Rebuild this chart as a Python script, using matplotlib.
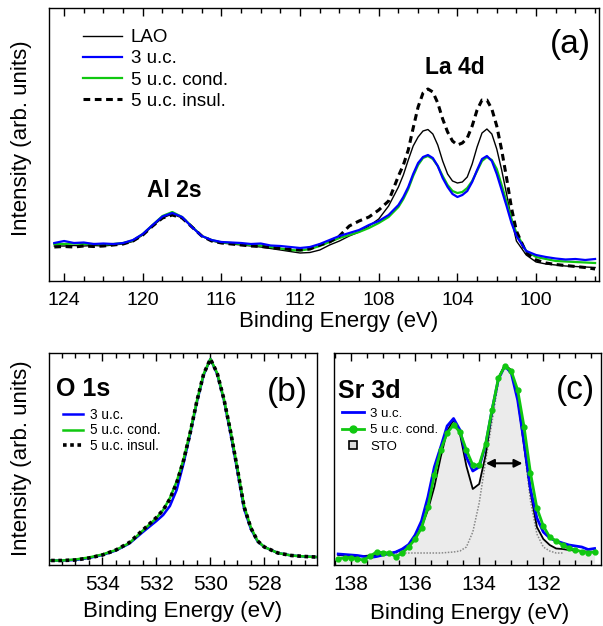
import matplotlib
matplotlib.use('Agg')
import matplotlib.pyplot as plt
from matplotlib.lines import Line2D
from matplotlib.ticker import MultipleLocator

plt.rcParams['font.family'] = ['Liberation Sans', 'DejaVu Sans']

# panel (a): Al 2s / La 4d
energy_a = [124.5, 124.0, 123.5, 123.0, 122.5, 122.0, 121.5, 121.0, 120.5,
            120.0, 119.5, 119.0, 118.5, 118.0, 117.5, 117.0, 116.5, 116.0,
            115.5, 115.0, 114.5, 114.0, 113.5, 113.0, 112.5, 112.0, 111.5,
            111.0, 110.5, 110.0, 109.5, 109.0, 108.5, 108.0, 107.5,
            107.0, 106.75, 106.5, 106.25, 106.0, 105.75, 105.5, 105.25,
            105.0, 104.75, 104.5, 104.25, 104.0, 103.75, 103.5, 103.25,
            103.0, 102.75, 102.5, 102.25, 102.0, 101.75, 101.5, 101.25,
            101.0, 100.5, 100.0, 99.5, 99.0, 98.5, 98.0, 97.5, 97.0]
lao_a = [35, 35, 35.5, 35, 35.5, 35, 36, 37, 39.5, 46, 55, 63, 67, 63, 54,
         45, 40, 38, 37, 36, 35, 34, 32.5, 31, 29.5, 28, 28.5, 31, 36, 40,
         45, 49, 55, 62, 75,
         94, 106, 121, 135, 144, 150, 151.5, 147, 136, 120, 107, 100, 98,
         99, 104, 117, 134, 148, 152, 147, 132, 111, 87, 62, 40,
         26, 19, 17, 16, 15, 14.5, 14, 13.5]
uc3_a = [38, 40, 38, 38.5, 37, 37.5, 37, 38, 41, 47, 56, 64.5, 68, 64, 54,
         45, 41, 39, 38.5, 38, 37, 37.5, 35.5, 35, 34, 33, 34, 37, 41, 45,
         48, 51, 56, 60, 66,
         76, 84, 94, 107, 118, 124, 126, 123, 115, 103, 94, 87, 84, 86, 90,
         99, 111, 122, 125, 120, 107, 91, 75, 58, 45,
         30, 26, 24, 22.5, 21.5, 22, 21, 22]
cond_a = [37, 37, 37.5, 37, 37, 36.5, 37, 38, 40.5, 47, 56, 65, 69, 64, 54.5,
          45, 41, 38.5, 38, 37, 36, 35.5, 34, 32.5, 31, 30.5, 32, 35, 39, 43,
          46, 49, 53, 58, 64,
          74, 82, 92, 105, 116, 123, 125, 122, 115, 105, 96, 90, 88, 89, 93,
          100, 110, 120, 124, 121, 112, 96, 79, 62, 48,
          30, 24, 22, 20, 19.5, 19, 18.5, 18]
insul_a = [34, 34.5, 34, 35, 34.5, 35, 36, 37, 40, 46, 55, 63, 66, 63, 54,
           45, 40, 38, 37, 36, 35, 34.5, 33.5, 32.5, 31.5, 31, 32, 36, 39, 45,
           55, 60, 64, 71, 80,
           105, 116, 131, 153, 174, 188, 192, 189, 178, 162, 149, 140, 136,
           138, 143, 155, 171, 181, 181, 172, 155, 131, 103, 73, 50,
           28, 21, 18, 16.5, 15.5, 14.5, 13.5, 12]

# panel (b): O 1s
energy_b = [535.9, 535.5, 535.0, 534.5, 534.0, 533.5, 533.0, 532.5, 532.0,
            531.75, 531.5, 531.25, 531.0, 530.75, 530.5, 530.25, 530.0,
            529.75, 529.5, 529.25, 529.0, 528.75, 528.5, 528.25, 528.0,
            527.5, 527.0, 526.5, 526.1]
uc3_b = [4.5, 4.5, 5, 7, 10, 14.5, 21.5, 33, 44, 50, 59, 75, 101, 131, 163,
         190, 206, 191, 165, 131, 94, 56, 36, 23.5, 18, 12, 9.5, 8.5, 8]
cond_b = [4.5, 4.5, 5.5, 7.5, 10.5, 15, 22, 34.5, 47, 55, 67, 83.5, 105, 133,
          164, 191, 206, 192, 166, 134, 97, 59, 37.5, 24, 18, 12, 9.5, 8.5, 8]
insul_b = [4.5, 4.5, 5, 7, 10, 15, 22.5, 35, 47.5, 55, 66, 82, 104, 132, 164,
           191, 206, 192, 166, 133, 96, 58, 37, 24, 18, 12, 9.5, 8.5, 8]

# panel (c): Sr 3d
energy_c = [138.4, 138.2, 138.0, 137.8, 137.6, 137.4, 137.2, 137.0, 136.8,
            136.6, 136.4, 136.2, 136.0, 135.8, 135.6, 135.4, 135.2, 135.0,
            134.8, 134.6, 134.4, 134.2, 134.0, 133.8, 133.6, 133.4, 133.2,
            133.0, 132.8, 132.6, 132.4, 132.2, 132.0, 131.8, 131.6, 131.4,
            131.2, 131.0, 130.8, 130.6, 130.4]
sto_c = [10, 9.5, 9, 9, 9, 9.5, 10, 10.5, 11.5, 13, 15.5, 20, 26, 38, 55, 78,
         108, 134, 145, 131, 99, 76, 81, 110, 152, 187, 200, 195, 167, 119,
         73, 38, 26, 20, 16.5, 16, 15, 14.5, 13.5, 13.5, 13]
uc3_c = [11, 10.5, 10, 9.5, 8.5, 7.5, 8.5, 10, 11.5, 13, 16, 20.5, 30, 44, 68,
         98, 118, 139, 146.5, 135, 108, 94, 98, 120, 155, 186, 199, 192, 165,
         122, 76, 47, 33, 27, 24, 22, 20, 19, 18, 15.5, 16.5]
cond_c = [6.5, 7, 7.5, 6, 5, 9, 13, 12.5, 12, 8.5, 12, 18, 26, 37, 58, 90,
          115, 132, 140, 133, 115, 100, 100, 121, 155, 187, 199, 194, 175,
          138, 92, 57, 39, 28, 24, 20, 17, 15, 13.5, 12.5, 13]
energy_fit = [136.6, 136.4, 136.2, 136.0, 135.8, 135.6, 135.4, 135.2, 135.0,
              134.8, 134.6, 134.4, 134.2, 134.0, 133.8, 133.6, 133.4, 133.2,
              133.0, 132.8, 132.6, 132.4, 132.2, 132.0, 131.8, 131.6, 131.4]
fit_c = [12, 12, 12, 12, 12, 12, 12, 12, 12.5, 13, 14, 18, 33, 62, 104, 143,
         183, 199, 194, 166, 118, 64, 31, 18, 14, 12, 12]
sto_floor = 2
arrow_ends = [133.79, 132.65]
arrow_level = 101.7

BLUE = '#0000ff'
GREEN = '#10c810'
W, H = 603, 626


def px(x, y):
    return x / W, 1 - y / H


def style_axis(ax, major, minor, labelsize, pad):
    ax.set_yticks([])
    ax.xaxis.set_major_locator(MultipleLocator(major))
    ax.xaxis.set_minor_locator(MultipleLocator(minor))
    ax.tick_params(axis='x', which='both', direction='in', top=True,
                   bottom=True, width=1, labelsize=labelsize, pad=pad)
    ax.tick_params(axis='x', which='major', length=6)
    ax.tick_params(axis='x', which='minor', length=3.5)
    for s in ax.spines.values():
        s.set_linewidth(1)


fig = plt.figure(figsize=(6.03, 6.26), dpi=100)
ax_a = fig.add_axes([49 / W, 345 / H, 550 / W, 273 / H])
ax_b = fig.add_axes([49 / W, 61 / H, 268 / W, 212 / H])
ax_c = fig.add_axes([334 / W, 61 / H, 267 / W, 212 / H])

# (a)
ax_a.plot(energy_a, lao_a, color='black', lw=1.0, label='LAO')
ax_a.plot(energy_a, uc3_a, color=BLUE, lw=1.6, label='3 u.c.', zorder=3)
ax_a.plot(energy_a, cond_a, color=GREEN, lw=1.6, label='5 u.c. cond.')
ax_a.plot(energy_a, insul_a, color='black', lw=2.2,
          linestyle=(0, (2.2, 1.5)), label='5 u.c. insul.')
ax_a.set_xlim(124.77, 96.8)
ax_a.set_ylim(0, 273)
style_axis(ax_a, 4, 1, 14, 8)
ax_a.legend(loc='upper left', bbox_to_anchor=(0.062, 0.923), frameon=False,
            fontsize=13.5, handlelength=2.1, handletextpad=0.45,
            borderpad=0, borderaxespad=0, labelspacing=0.22)

# (b)
ax_b.plot(energy_b, uc3_b, color=BLUE, lw=1.8, label='3 u.c.')
ax_b.plot(energy_b, cond_b, color=GREEN, lw=1.8, label='5 u.c. cond.')
ax_b.plot(energy_b, insul_b, color='black', lw=2.6,
          linestyle=(0, (1, 1)), label='5 u.c. insul.')
ax_b.set_xlim(535.98, 526.05)
ax_b.set_ylim(0, 212)
style_axis(ax_b, 2, 0.5, 15, 7.5)
ax_b.legend(loc='upper left', bbox_to_anchor=(0.052, 0.742), frameon=False,
            fontsize=9.8, handlelength=1.5, handletextpad=0.5,
            borderpad=0, borderaxespad=0, labelspacing=0.13)

# (c)
ax_c.fill_between(energy_c, sto_floor, sto_c, color='#ebebeb', lw=0)
ax_c.plot(energy_fit, fit_c, color='#888888', lw=1.1, linestyle=(0, (1, 1)))
ax_c.plot(energy_c, sto_c, color='black', lw=1.3)
ax_c.plot(energy_c, uc3_c, color=BLUE, lw=2.0)
ax_c.plot(energy_c, cond_c, color=GREEN, lw=2.0, marker='o', markersize=3.5)
ax_c.annotate('', xy=(arrow_ends[1], arrow_level),
              xytext=(arrow_ends[0], arrow_level),
              arrowprops=dict(arrowstyle='<|-|>', color='black', lw=1.5,
                              mutation_scale=12, shrinkA=0, shrinkB=0))
ax_c.set_xlim(138.53, 130.2)
ax_c.set_ylim(0, 212)
style_axis(ax_c, 2, 0.5, 15, 7.5)
handles_c = [
    Line2D([], [], color=BLUE, lw=2.0),
    Line2D([], [], color=GREEN, lw=2.0, marker='o', markersize=5),
    Line2D([], [], linestyle='none', marker='s', markersize=6,
           markerfacecolor='#dcdcdc', markeredgecolor='black',
           markeredgewidth=1.2),
]
ax_c.legend(handles_c, ['3 u.c.', '5 u.c. cond.', 'STO'], loc='upper left',
            bbox_to_anchor=(0.03, 0.743), frameon=False, fontsize=9.5,
            handlelength=1.7, handletextpad=0.45, borderpad=0,
            borderaxespad=0, labelspacing=0.33)

# labels and annotations
fig.text(*px(339, 322), 'Binding Energy (eV)', fontsize=16,
         ha='center', va='center')
fig.text(*px(183, 612), 'Binding Energy (eV)', fontsize=16,
         ha='center', va='center')
fig.text(*px(470, 613), 'Binding Energy (eV)', fontsize=16,
         ha='center', va='center')
fig.text(*px(22, 138), 'Intensity (arb. units)', fontsize=16,
         rotation=90, ha='center', va='center')
fig.text(*px(22, 458), 'Intensity (arb. units)', fontsize=16,
         rotation=90, ha='center', va='center')

fig.text(*px(455, 67), 'La 4d', fontsize=16.5, fontweight='bold',
         ha='center', va='center')
fig.text(*px(174, 190), 'Al 2s', fontsize=16.5, fontweight='bold',
         ha='center', va='center')
fig.text(*px(83, 389), 'O 1s', fontsize=18, fontweight='bold',
         ha='center', va='center')
fig.text(*px(369, 391), 'Sr 3d', fontsize=18, fontweight='bold',
         ha='center', va='center')
fig.text(*px(570, 45), '(a)', fontsize=24, ha='center', va='center')
fig.text(*px(287, 392), '(b)', fontsize=24, ha='center', va='center')
fig.text(*px(575, 390), '(c)', fontsize=24, ha='center', va='center')

fig.savefig('out.png', dpi=100)
